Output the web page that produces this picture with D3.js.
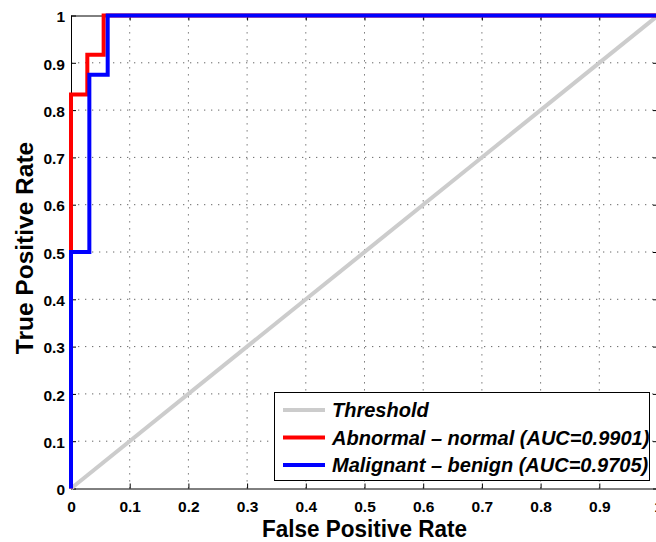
<!DOCTYPE html>
<html>
<head>
<meta charset="utf-8">
<script src="https://cdn.jsdelivr.net/npm/d3@7"></script>
<style>
  html, body { margin: 0; padding: 0; background: #fff; overflow: hidden; }
  text { font-family: "Liberation Sans", Arial, Helvetica, sans-serif; font-weight: bold; }
</style>
</head>
<body>
<div class="roc_chart"></div>
<script>
// ROC data
const fprAbnormal = [0, 0, 0.0278, 0.0278, 0.0556, 0.0556, 1];
const tprAbnormal = [0, 0.833, 0.833, 0.917, 0.917, 1, 1];
const fprMalignant = [0, 0, 0.03125, 0.03125, 0.0625, 0.0625, 1];
const tprMalignant = [0, 0.5, 0.5, 0.875, 0.875, 1, 1];
const fprThreshold = [0, 1];
const tprThreshold = [0, 1];

const tickValues = [0, 0.1, 0.2, 0.3, 0.4, 0.5, 0.6, 0.7, 0.8, 0.9, 1];
const tickLabels = ["0", "0.1", "0.2", "0.3", "0.4", "0.5", "0.6", "0.7", "0.8", "0.9", "1"];

const seriesNames = ["Threshold", "Abnormal \u2013 normal (AUC=0.9901)", "Malignant \u2013 benign (AUC=0.9705)"];
const seriesColors = ["#cccccc", "#ff0000", "#0000ff"];

const width = 656,
  height = 542;
const margin = { left: 71, top: 15.5, right: -2, bottom: 53.5 };

const svg = d3
  .select(".roc_chart")
  .append("svg")
  .attr("width", width)
  .attr("height", height);

const x = d3.scaleLinear().domain([0, 1]).range([margin.left, width - margin.right]);
const y = d3.scaleLinear().domain([0, 1]).range([height - margin.bottom, margin.top]);

// dotted grid
const grid = svg.append("g").attr("class", "grid");
grid
  .selectAll("line.gx")
  .data(tickValues.slice(1, -1))
  .join("line")
  .attr("x1", (d) => x(d))
  .attr("x2", (d) => x(d))
  .attr("y1", y(0))
  .attr("y2", y(1))
  .attr("stroke", "#666")
  .attr("stroke-width", 1)
  .attr("stroke-dasharray", "1.3,5.7");
grid
  .selectAll("line.gy")
  .data(tickValues.slice(1, -1))
  .join("line")
  .attr("x1", x(0))
  .attr("x2", x(1))
  .attr("y1", (d) => y(d))
  .attr("y2", (d) => y(d))
  .attr("stroke", "#666")
  .attr("stroke-width", 1)
  .attr("stroke-dasharray", "1.3,5.7");

// axes box with inward ticks (matlab style)
const fmt = (d) => tickLabels[tickValues.indexOf(d)];
const xBottom = svg
  .append("g")
  .attr("transform", `translate(0,${y(0)})`)
  .call(d3.axisBottom(x).tickValues(tickValues).tickFormat(fmt).tickSizeInner(-5).tickSizeOuter(0).tickPadding(12));
const xTop = svg
  .append("g")
  .attr("transform", `translate(0,${y(1)})`)
  .call(d3.axisTop(x).tickValues(tickValues).tickFormat("").tickSizeInner(-5).tickSizeOuter(0));
const yLeft = svg
  .append("g")
  .attr("transform", `translate(${x(0)},0)`)
  .call(d3.axisLeft(y).tickValues(tickValues).tickFormat(fmt).tickSizeInner(-5).tickSizeOuter(0).tickPadding(6));
const yRight = svg
  .append("g")
  .attr("transform", `translate(${x(1)},0)`)
  .call(d3.axisRight(y).tickValues(tickValues).tickFormat("").tickSizeInner(-5).tickSizeOuter(0));

[xBottom, xTop, yLeft, yRight].forEach((g) => {
  g.select(".domain").attr("stroke", "#000").attr("stroke-width", 1);
  g.selectAll(".tick line").attr("stroke", "#000");
  g.selectAll(".tick text")
    .attr("fill", "#000")
    .attr("font-size", "15.5px")
    .attr("font-family", null)
    .style("font-weight", "bold");
});
xBottom.selectAll(".tick text").attr("dy", "0.71em");
yLeft.selectAll(".tick text").attr("dy", "0.4em");

// curves
const line = d3
  .line()
  .x((d) => x(d[0]))
  .y((d) => y(d[1]));

const curves = [
  d3.zip(fprThreshold, tprThreshold),
  d3.zip(fprAbnormal, tprAbnormal),
  d3.zip(fprMalignant, tprMalignant)
];

svg
  .selectAll("path.curve")
  .data(curves)
  .join("path")
  .attr("class", "curve")
  .attr("d", line)
  .attr("fill", "none")
  .attr("stroke", (d, i) => seriesColors[i])
  .attr("stroke-width", 4)
  .attr("stroke-linejoin", "miter");

// axis labels
svg
  .append("text")
  .attr("x", (x(0) + x(1)) / 2)
  .attr("y", 537)
  .attr("text-anchor", "middle")
  .attr("font-size", "23px")
  .attr("textLength", 205)
  .attr("lengthAdjust", "spacingAndGlyphs")
  .attr("fill", "#000")
  .text("False Positive Rate");

svg
  .append("text")
  .attr("transform", "translate(33,248) rotate(-90)")
  .attr("text-anchor", "middle")
  .attr("font-size", "24.5px")
  .attr("fill", "#000")
  .text("True Positive Rate");

// legend
const legend = svg.append("g").attr("class", "legend");
legend
  .append("rect")
  .attr("x", 274.5)
  .attr("y", 392.5)
  .attr("width", 375)
  .attr("height", 88)
  .attr("fill", "#fff")
  .attr("stroke", "#000")
  .attr("stroke-width", 1);

const rows = legend
  .selectAll("g.row")
  .data(seriesNames)
  .join("g")
  .attr("class", "row")
  .attr("transform", (d, i) => `translate(0,${410 + i * 27.5})`);

rows
  .append("line")
  .attr("x1", 283)
  .attr("x2", 325)
  .attr("stroke", (d, i) => seriesColors[i])
  .attr("stroke-width", 4);

rows
  .append("text")
  .attr("x", 332)
  .attr("dy", "0.36em")
  .attr("font-size", "20px")
  .attr("font-style", "italic")
  .attr("fill", "#000")
  .text((d) => d);
</script>
</body>
</html>
